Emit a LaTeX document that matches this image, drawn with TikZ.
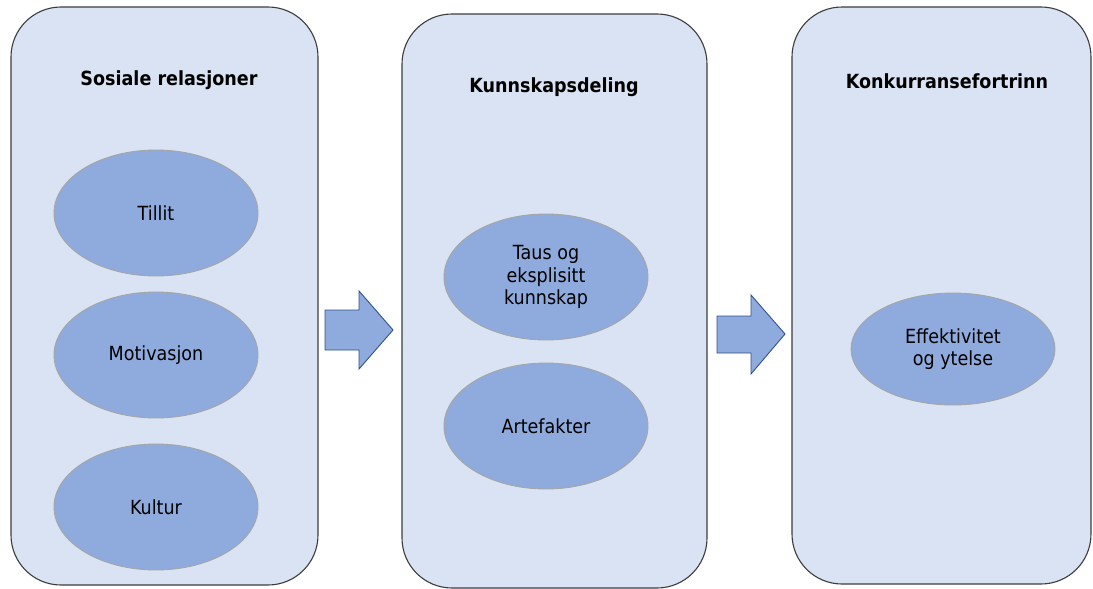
\documentclass[tikz,border=0pt]{standalone}
\usepackage{fontspec}
\setmainfont{DejaVu Sans}[FakeStretch=0.9]
\usetikzlibrary{shapes.geometric}
\definecolor{panelfill}{HTML}{DAE3F3}
\definecolor{panelline}{HTML}{3C3C3C}
\definecolor{ovalfill}{HTML}{8FAADC}
\definecolor{ovalline}{HTML}{A6A6A6}
\definecolor{arrowline}{HTML}{2F528F}
\tikzset{
  panel/.style={draw=panelline, fill=panelfill, line width=1.1pt, rounded corners=50pt},
  paneltitle/.style={font=\fontsize{19.5}{22}\selectfont\bfseries, inner sep=0pt},
  oval/.style={ellipse, draw=ovalline, fill=ovalfill, line width=0.9pt,
    minimum width=204pt, minimum height=126pt, inner sep=0pt, align=center,
    font=\fontsize{19.5}{22.5}\selectfont},
  blockarrow/.style={draw=arrowline, fill=ovalfill, line width=0.9pt, line join=miter}
}
\begin{document}
\begin{tikzpicture}[x=1pt, y=-1pt]
  \useasboundingbox (0,0) rectangle (1093,589);

  % three stage panels
  \draw[panel] (11,7) rectangle (318,585);
  \draw[panel] (402,14) rectangle (707,588);
  \draw[panel] (792,7) rectangle (1091,584);

  % panel headings
  \node[paneltitle] (t1) at (169,80) {Sosiale relasjoner};
  \node[paneltitle] (t2) at (554,87) {Kunnskapsdeling};
  \node[paneltitle] (t3) at (947,81) {Konkurransefortrinn};

  % stage 1: social relations
  \node[oval] (tillit) at (156,213) {Tillit};
  \node[oval] (motiv) at (156,355) {Motivasjon};
  \node[oval] (kultur) at (156,507) {Kultur};

  % stage 2: knowledge sharing
  \node[oval] (taus) at (546,277) {Taus og\\eksplisitt\\kunnskap};
  \node[oval] (arte) at (546,426) {Artefakter};

  % stage 3: competitive advantage
  \node[oval, minimum height=112pt] (eff) at (953,349) {Effektivitet\\og ytelse};

  % block arrows between the stages
  \draw[blockarrow] (325,310) -- (359,310) -- (359,291) -- (393,330)
        -- (359,369) -- (359,350) -- (325,350) -- cycle;
  \draw[blockarrow] (717,316) -- (751,316) -- (751,295) -- (785,334)
        -- (751,374) -- (751,353) -- (717,353) -- cycle;
\end{tikzpicture}
\end{document}
